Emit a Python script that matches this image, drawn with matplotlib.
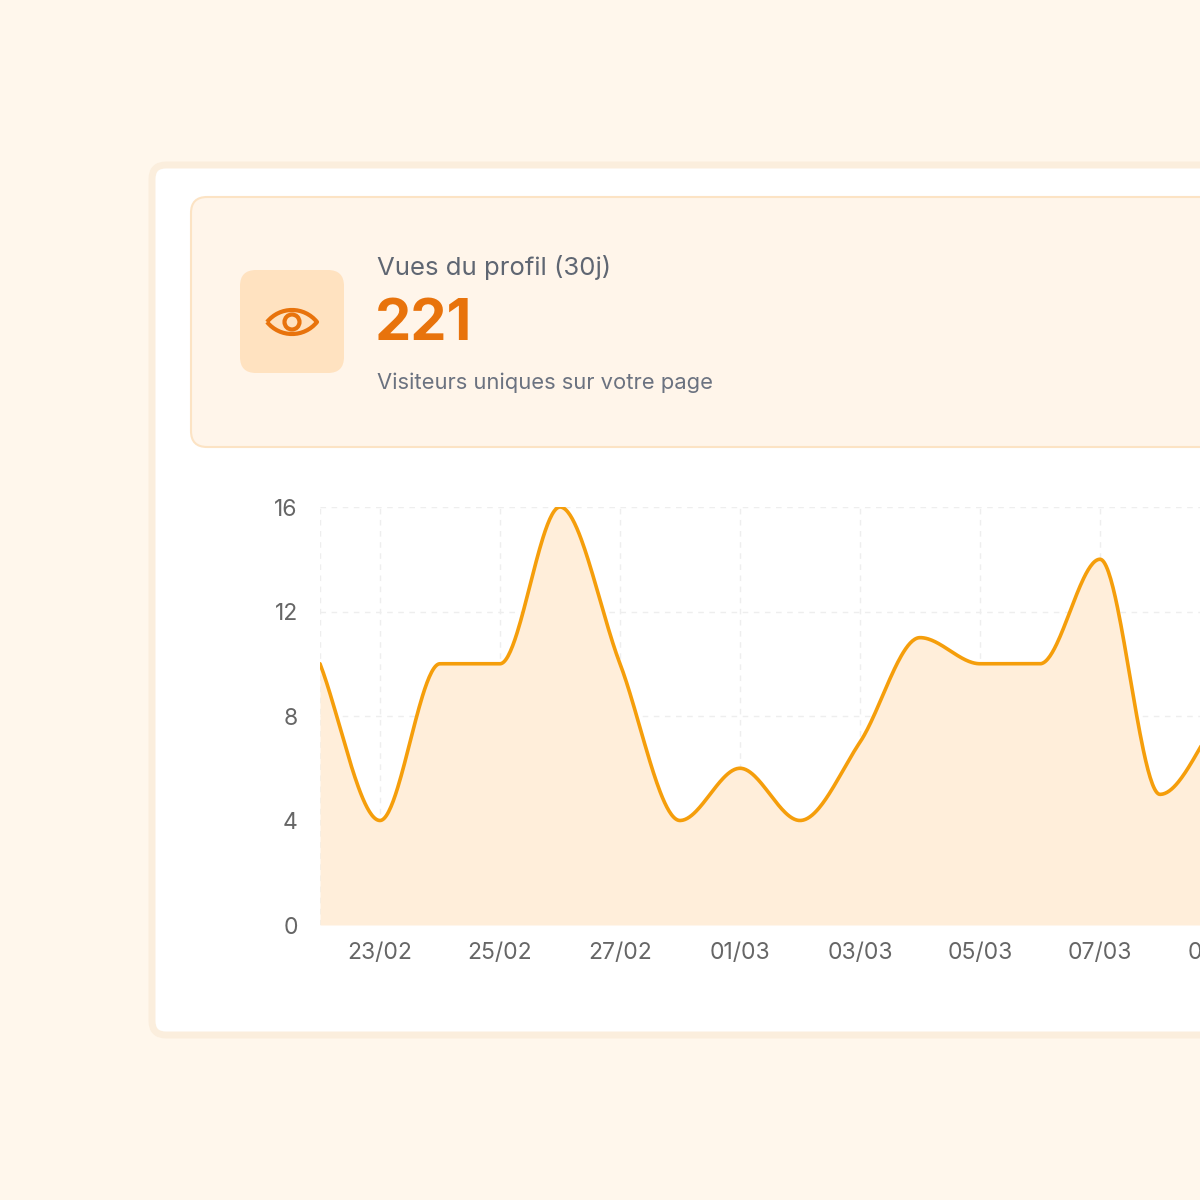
import numpy as np
import matplotlib.pyplot as plt
from matplotlib.patches import FancyBboxPatch, Circle, PathPatch
from matplotlib.path import Path

dates = ["22/02","23/02","24/02","25/02","26/02","27/02","28/02","01/03","02/03","03/03","04/03","05/03","06/03","07/03","08/03","09/03"]
views = [10,4,10,10,16,10,4,6,4,7,11,10,10,14,5,8]
yticks = [0,4,8,12,16]
title = "Vues du profil (30j)"
total = "221"
subtitle = "Visiteurs uniques sur votre page"

def pchip(x, y, xs):
    x = np.asarray(x, float); y = np.asarray(y, float)
    h = np.diff(x); d = np.diff(y)/h
    m = np.zeros_like(y)
    for k in range(1, len(y)-1):
        if d[k-1]*d[k] > 0:
            w1 = 2*h[k]+h[k-1]; w2 = h[k]+2*h[k-1]
            m[k] = (w1+w2)/(w1/d[k-1]+w2/d[k])
    m[0] = d[0]; m[-1] = d[-1]
    out = np.empty_like(xs)
    for i, xv in enumerate(xs):
        k = min(np.searchsorted(x, xv, side='right')-1, len(x)-2)
        t = (xv-x[k])/h[k]
        h00 = 2*t**3-3*t**2+1; h10 = t**3-2*t**2+t; h01 = -2*t**3+3*t**2; h11 = t**3-t**2
        out[i] = h00*y[k]+h10*h[k]*m[k]+h01*y[k+1]+h11*h[k]*m[k+1]
    return out

W = H = 1200
fig = plt.figure(figsize=(12, 12), dpi=100)
fig.patch.set_facecolor("#FFF7EC")
bg = fig.add_axes([0, 0, 1, 1]); bg.set_xlim(0, W); bg.set_ylim(H, 0); bg.axis("off")

bg.add_patch(FancyBboxPatch((152, 165), 1200, 870, boxstyle="round,pad=0,rounding_size=14",
                            fc="white", ec="#FBEEDD", lw=5))
bg.add_patch(FancyBboxPatch((191, 197), 1100, 250, boxstyle="round,pad=0,rounding_size=16",
                            fc="#FFF5EA", ec="#FCE3C4", lw=1.5))
bg.add_patch(FancyBboxPatch((240, 270), 104, 103, boxstyle="round,pad=0,rounding_size=16",
                            fc="#FFE2C0", ec="none"))
ic = "#E8730C"
cx, cy = 292, 322
eye = Path([(cx-25, cy), (cx-12, cy-16), (cx+12, cy-16), (cx+25, cy),
            (cx+12, cy+16), (cx-12, cy+16), (cx-25, cy)],
           [Path.MOVETO, Path.CURVE4, Path.CURVE4, Path.CURVE4, Path.CURVE4, Path.CURVE4, Path.CURVE4])
bg.add_patch(PathPatch(eye, fc="none", ec=ic, lw=3.0, joinstyle="round"))
bg.add_patch(Circle((cx, cy), 7.5, fc="none", ec=ic, lw=3.0))

bg.text(377, 267, title, fontsize=18.5, color="#5F6672", va="center", family="Inter")
bg.text(375, 325, total, fontsize=41.5, fontweight="bold", color="#E8730C", va="center", family="Inter")
bg.text(377, 383, subtitle, fontsize=15.8, color="#6B7280", va="center", family="Inter")

x0, px = 320, 60
ndays = len(dates)-1
ax = fig.add_axes([x0/W, 1-925/H, ndays*px/W, (925-507)/H])
ax.set_facecolor("none")
x = np.arange(len(views))
xs = np.linspace(0, ndays, 800)
ys = pchip(x, views, xs)
ax.fill_between(xs, 0, ys, color="#FFEEDA", lw=0)
ax.plot(xs, ys, color="#F59E0B", lw=2.6, solid_capstyle="round")
ax.set_xlim(0, ndays); ax.set_ylim(0, 16)
ax.set_yticks(yticks)
ax.set_xticks(x[1::2]); ax.set_xticklabels(dates[1::2])
for v in [0] + list(x[1::2]):
    ax.axvline(v, color="#EEEEEE", lw=1, ls=(0, (4, 4)), zorder=0)
for v in yticks[1:]:
    ax.axhline(v, color="#EEEEEE", lw=1, ls=(0, (4, 4)), zorder=0)
for s in ax.spines.values(): s.set_visible(False)
for lab in ax.get_xticklabels() + ax.get_yticklabels():
    lab.set_family("Inter")
ax.tick_params(length=0, labelsize=16.5, colors="#666666", pad=12)
ax.tick_params(axis="y", pad=16)
fig.savefig("out.png", dpi=100, facecolor=fig.get_facecolor())
